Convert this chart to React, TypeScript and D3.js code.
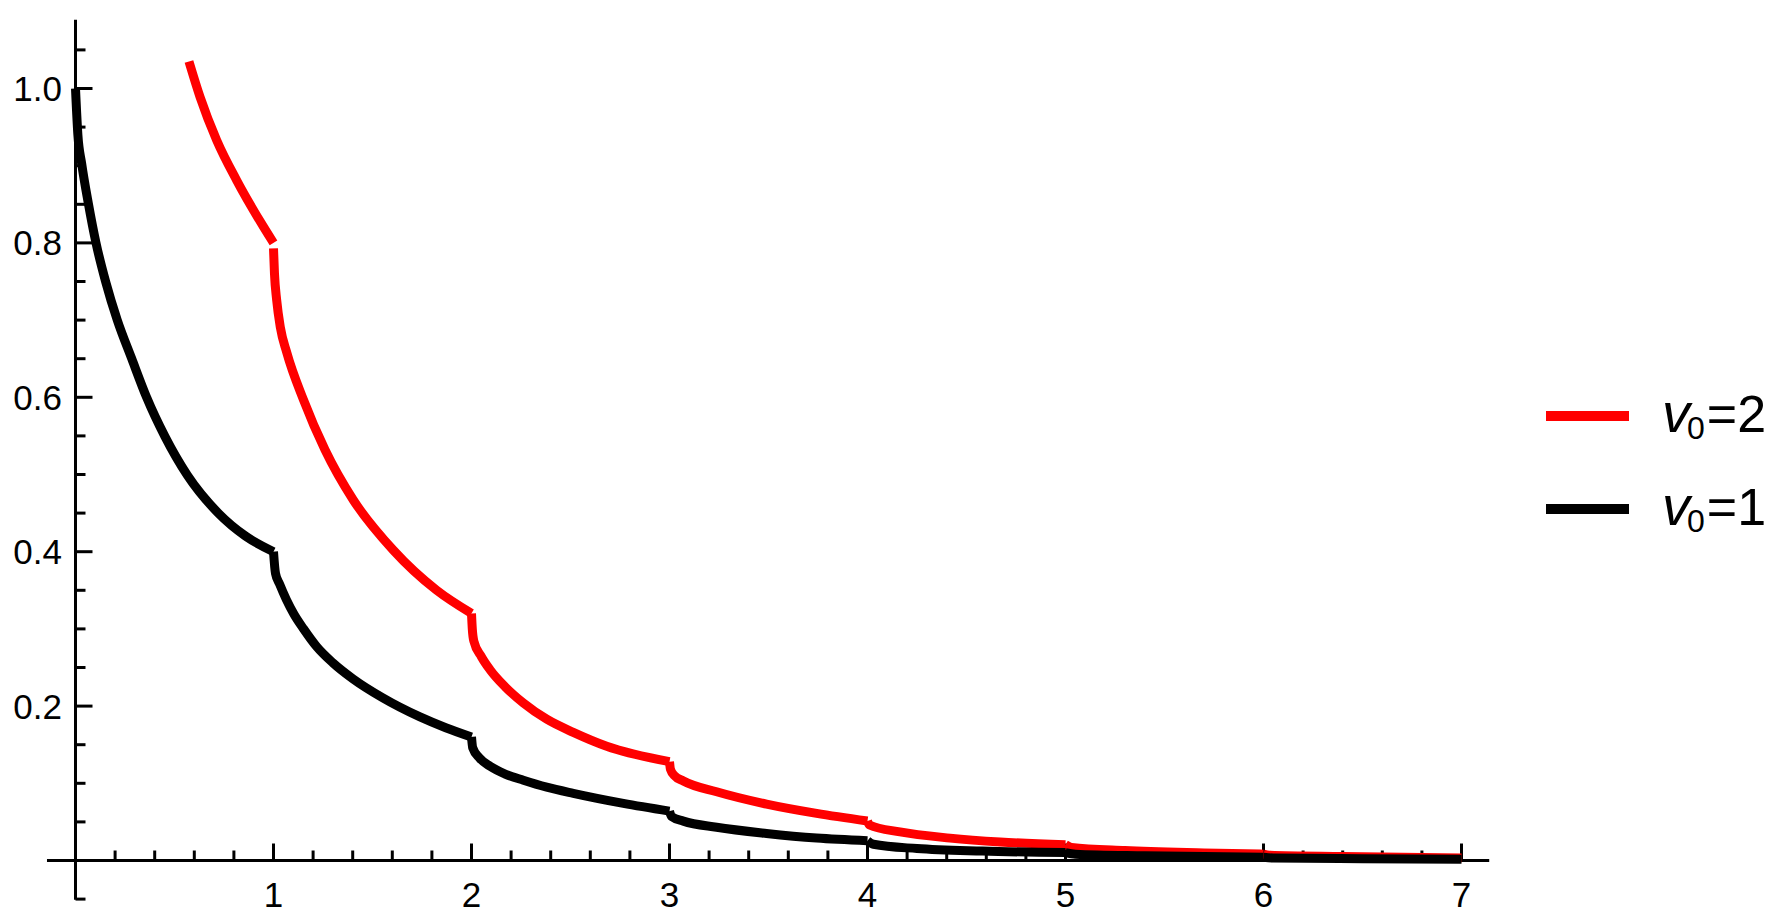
import React from "react";
import * as d3 from "d3";

// v0 = 1 (black), piecewise segments between integer x values
const v1Segments: [number, number][][] = [
  [[0, 1.0], [0.012, 0.94], [0.031, 0.903], [0.065, 0.851], [0.1035, 0.8], [0.152, 0.75], [0.211, 0.7], [0.284, 0.65], [0.359, 0.6], [0.452, 0.549], [0.565, 0.499], [0.721, 0.45], [0.86, 0.42], [1.0, 0.4]],
  [[1.0, 0.4], [1.01, 0.372], [1.031, 0.358], [1.065, 0.338], [1.1035, 0.319], [1.152, 0.3], [1.218, 0.277], [1.3, 0.256], [1.403, 0.235], [1.55, 0.211], [1.74, 0.186], [1.87, 0.172], [2.0, 0.16]],
  [[2.0, 0.16], [2.006, 0.146], [2.04, 0.133], [2.094, 0.122], [2.17, 0.112], [2.262, 0.104], [2.38, 0.095], [2.514, 0.087], [2.767, 0.074], [3.0, 0.064]],
  [[3.0, 0.064], [3.01, 0.057], [3.07, 0.051], [3.238, 0.043], [3.49, 0.035], [3.743, 0.029], [4.0, 0.0256]],
  [[4.0, 0.0256], [4.03, 0.021], [4.25, 0.0155], [4.58, 0.0122], [5.0, 0.0102]],
  [[5.0, 0.0102], [5.05, 0.0082], [5.4, 0.006], [6.0, 0.0041]],
  [[6.0, 0.0041], [6.05, 0.0032], [6.5, 0.0023], [7.0, 0.0016]],
];

// v0 = 2 (red)
const v2Segments: [number, number][][] = [
  [[0.573, 1.035], [0.629, 0.989], [0.713, 0.933], [0.814, 0.881], [0.949, 0.821], [1.0, 0.8]],
  [[1.0, 0.793], [1.005, 0.76], [1.016, 0.726], [1.035, 0.69], [1.067, 0.658], [1.151, 0.597], [1.26, 0.532], [1.403, 0.467], [1.605, 0.402], [1.824, 0.35], [2.0, 0.32]],
  [[2.0, 0.32], [2.004, 0.3], [2.012, 0.284], [2.05, 0.264], [2.094, 0.247], [2.17, 0.225], [2.262, 0.204], [2.38, 0.183], [2.514, 0.166], [2.683, 0.148], [3.0, 0.128]],
  [[3.0, 0.128], [3.005, 0.118], [3.025, 0.11], [3.07, 0.103], [3.238, 0.089], [3.49, 0.073], [3.743, 0.061], [4.0, 0.0512]],
  [[4.0, 0.0512], [4.01, 0.046], [4.164, 0.037], [4.417, 0.029], [4.67, 0.024], [5.0, 0.0205]],
  [[5.0, 0.0205], [5.03, 0.017], [5.3, 0.0128], [5.7, 0.0098], [6.0, 0.0082]],
  [[6.0, 0.0082], [6.03, 0.0068], [6.4, 0.0052], [7.0, 0.0033]],
];

const xMajorTicks = [1, 2, 3, 4, 5, 6, 7];
const yMajorTicks = [0.2, 0.4, 0.6, 0.8, 1.0];
const yTickLabels = ["0.2", "0.4", "0.6", "0.8", "1.0"];
const legendLabels = [
  { sub: "0", val: "2", color: "#ff0000" },
  { sub: "0", val: "1", color: "#000000" },
];

export default function App() {
  const W = 1775;
  const H = 921;
  const x = d3.scaleLinear().domain([0, 7]).range([75.5, 1461.5]);
  const y = d3.scaleLinear().domain([0, 1]).range([860.5, 88.5]);

  const line = d3
    .line<[number, number]>()
    .x((d) => x(d[0]))
    .y((d) => y(d[1]))
    .curve(d3.curveMonotoneX);

  const xMinor = d3.range(0, 7.01, 0.2).map((v) => +v.toFixed(2)).filter((v) => v > 0 && Math.abs(v - Math.round(v)) > 1e-6);
  const yMinor = d3.range(-0.05, 1.06, 0.05).map((v) => +v.toFixed(2)).filter((v) => Math.abs(v * 5 - Math.round(v * 5)) > 1e-6);

  const font = "'Liberation Sans', Arial, sans-serif";

  return (
    <svg width={W} height={H} style={{ position: "absolute", left: 0, top: 0, background: "#fff" }}>
      {/* axes */}
      <g stroke="#000" strokeWidth={3}>
        <line x1={x(-0.144)} x2={x(7.14)} y1={y(0)} y2={y(0)} />
        <line x1={x(0)} x2={x(0)} y1={y(-0.051)} y2={y(1.089)} />
        {xMajorTicks.map((t) => (
          <line key={"xM" + t} x1={x(t)} x2={x(t)} y1={y(0)} y2={y(0) - 17} />
        ))}
        {xMinor.map((t) => (
          <line key={"xm" + t} x1={x(t)} x2={x(t)} y1={y(0)} y2={y(0) - 10} />
        ))}
        {yMajorTicks.map((t) => (
          <line key={"yM" + t} x1={x(0)} x2={x(0) + 17} y1={y(t)} y2={y(t)} />
        ))}
        {yMinor.map((t) => (
          <line key={"ym" + t} x1={x(0)} x2={x(0) + 10} y1={y(t)} y2={y(t)} />
        ))}
      </g>
      <g fontFamily={font} fontSize={35} fill="#000">
        {xMajorTicks.map((t) => (
          <text key={"xl" + t} x={x(t)} y={907} textAnchor="middle">
            {t}
          </text>
        ))}
        {yMajorTicks.map((t, i) => (
          <text key={"yl" + t} x={62} y={y(t)} textAnchor="end" dominantBaseline="central">
            {yTickLabels[i]}
          </text>
        ))}
      </g>
      {/* curves */}
      <g fill="none" strokeWidth={9} strokeLinejoin="round">
        {v2Segments.map((s, i) => (
          <path key={"r" + i} d={line(s) || ""} stroke="#ff0000" />
        ))}
        {v1Segments.map((s, i) => (
          <path key={"b" + i} d={line(s) || ""} stroke="#000000" />
        ))}
      </g>
      {/* legend */}
      {legendLabels.map((l, i) => {
        const cy = 416 + i * 93;
        return (
          <g key={"lg" + i}>
            <line x1={1546} x2={1629} y1={cy} y2={cy} stroke={l.color} strokeWidth={10} />
            <text x={1662} y={cy + 16} fontFamily={font} fontSize={52} fill="#000">
              <tspan fontStyle="italic" fontSize={56}>v</tspan>
              <tspan fontSize={32} dy={7} dx={-3}>{l.sub}</tspan>
              <tspan dy={-7} dx={2}>={l.val}</tspan>
            </text>
          </g>
        );
      })}
    </svg>
  );
}
